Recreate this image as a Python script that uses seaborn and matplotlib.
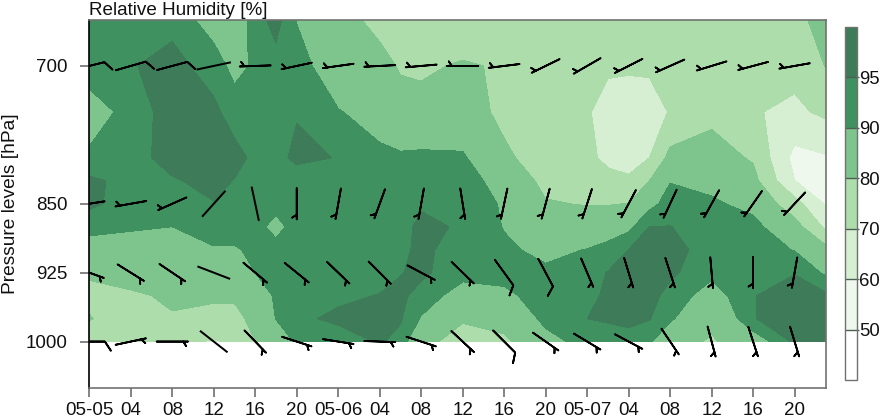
import numpy as np
import matplotlib
matplotlib.use("Agg")
import matplotlib.pyplot as plt
import seaborn as sns

sns.set_theme(style="ticks")
plt.rcParams['font.family'] = ['Liberation Sans', 'DejaVu Sans']

# Relative humidity field: one list per time column, values top to bottom of pressure
pressure = [650, 700, 750, 800, 825, 850, 875, 900, 925, 950, 975, 1000]
hours = [0, 4, 8, 12, 14, 16, 18, 20, 24, 28, 30, 32, 36, 40, 44, 48, 50, 52, 54, 56, 60, 64, 68, 71]
h00 = [92, 93, 87, 91, 96, 96, 92, 87, 81, 78, 80.5, 76]
h04 = [93, 94.7, 92, 93, 93.5, 93, 91, 86, 83, 79, 75, 73]
h08 = [93.7, 96.5, 97.5, 97, 94.5, 93, 90, 86, 82.5, 81, 79.5, 72]
h12 = [87, 93, 96, 97, 96.5, 94.8, 92, 89.6, 86, 81, 78, 69.3]
h14 = [86, 88, 93, 96.5, 94.8, 94, 92, 89.5, 85, 81, 78, 71]
h16 = [92.5, 91, 92.5, 94, 94, 93, 92, 91, 90, 85.5, 82, 80]
h18 = [97, 93, 93, 93, 93, 92, 88, 92, 91.5, 91, 90.2, 85]
h20 = [89.7, 93, 94.5, 96.5, 91.5, 93, 92.5, 92.5, 93, 93.5, 94, 91]
h24 = [84, 85, 90.4, 94.7, 93, 93, 92.5, 93, 93, 94, 96, 92.5]
h28 = [77, 83.3, 87, 91.5, 93, 93, 93, 93, 93, 95.2, 96.5, 95.5]
h30 = [74, 79, 84, 91, 93, 93, 93.5, 94, 94.8, 96, 95.5, 93.5]
h32 = [72, 78.5, 83, 91.5, 93, 94.5, 96, 96, 96, 93.3, 89.5, 83]
h36 = [73, 81, 84, 91, 93, 93.5, 94.5, 93, 92, 87, 81, 76]
h40 = [72, 79, 78, 81.5, 87, 89.3, 89.7, 91, 91.5, 89, 84, 78]
h44 = [73, 74, 74, 76, 77.5, 80.7, 85, 88.5, 91, 92, 91.5, 88]
h48 = [72, 71.5, 71, 71.5, 72.5, 79.5, 85, 90.2, 93, 93.5, 95, 92]
h50 = [72, 71.5, 66, 68.5, 72, 79.5, 86.5, 92, 95.2, 96, 95.5, 93]
h52 = [72, 71.3, 65, 66, 71.5, 80.2, 88.5, 95, 96.5, 96.5, 96, 93.5]
h54 = [72, 71.2, 66.5, 70, 80, 88, 95, 96.8, 96.5, 96.5, 95.3, 91]
h56 = [72, 71, 70.5, 83, 89.7, 92.5, 95.1, 97, 96, 93.5, 91, 84]
h60 = [71, 73, 77.5, 84, 88, 91, 93, 92.5, 91.5, 87, 82, 79]
h64 = [71, 71, 70.7, 79, 83, 88, 92, 93, 93.5, 94.8, 94.8, 86]
h68 = [77, 73, 68, 57, 60.2, 74, 84, 89.7, 94.8, 97, 97, 96]
h71 = [84, 80.3, 72, 59, 53, 59, 68, 83, 89, 96, 97, 97]
rh_columns = [h00, h04, h08, h12, h14, h16, h18, h20, h24, h28, h30, h32, h36, h40,
              h44, h48, h50, h52, h54, h56, h60, h64, h68, h71]

rh_levels = [40, 50, 60, 70, 80, 90, 95, 100]
rh_ticks = [50, 60, 70, 80, 90, 95]
rh_colors = ['#ffffff', '#eef8ec', '#d6eed2', '#acddaa', '#7dc48d', '#3f9160', '#3e7b58']

# Wind: direction the wind blows from (degrees) and speed (knots)
wind_hours = [0, 4, 8, 12, 16, 20, 24, 28, 32, 36, 40, 44, 48, 52, 56, 60, 64, 68]
wind_levels = [700, 850, 925, 1000]
dir_700 = [76, 74, 75, 78, 268, 258, 262, 267, 265, 270, 263, 244, 240, 243, 246, 253, 255, 260]
spd_700 = [10, 10, 10, 2, 5, 5, 5, 5, 5, 5, 5, 5, 5, 5, 5, 5, 5, 5]
dir_850 = [261, 260, 246, 222, 168, 180, 190, 200, 190, 171, 192, 195, 198, 208, 205, 209, 215, 223]
spd_850 = [5, 5, 5, 2, 2, 5, 5, 5, 5, 5, 5, 5, 5, 5, 5, 5, 5, 5]
dir_925 = [110, 122, 124, 111, 130, 129, 134, 135, 118, 134, 144, 152, 157, 163, 162, 175, 180, 190]
spd_925 = [5, 5, 5, 2, 5, 5, 5, 5, 5, 5, 10, 10, 5, 5, 5, 5, 5, 5]
dir_1000 = [90, 78, 90, 128, 136, 108, 99, 92, 108, 133, 135, 125, 121, 118, 146, 165, 162, 163]
spd_1000 = [10, 5, 5, 2, 5, 5, 5, 5, 5, 5, 10, 5, 5, 5, 5, 5, 5, 5]

x_tick_hours = wind_hours
x_tick_labels = ['05-05', '04', '08', '12', '16', '20', '05-06', '04', '08', '12', '16', '20',
                 '05-07', '04', '08', '12', '16', '20']

W, H = 880, 418
fig = plt.figure(figsize=(W / 100, H / 100), dpi=100)
ax = fig.add_axes([89.3 / W, 1 - 387.5 / H, (825.7 - 89.3) / W, (387.5 - 20) / H])
cax = fig.add_axes([844.5 / W, 1 - 380 / H, 12.2 / W, 353 / H])

palette = sns.color_palette(rh_colors)
rh = np.column_stack(rh_columns)
cf = ax.contourf(hours, pressure, rh, levels=rh_levels, colors=palette)

# Wind barbs, centred on their time and level
tx, ty, speed, direction = [], [], [], []
for lev, d, s in zip(wind_levels, [dir_700, dir_850, dir_925, dir_1000],
                     [spd_700, spd_850, spd_925, spd_1000]):
    tx += wind_hours
    ty += [lev] * len(wind_hours)
    speed += s
    direction += d
tx, ty, speed, direction = map(np.array, (tx, ty, speed, direction))
rad = np.deg2rad(direction)
u = -speed * np.sin(rad)
v = -speed * np.cos(rad)
strong = speed >= 5
ax.barbs(tx[strong], ty[strong], u[strong], v[strong], pivot='middle', length=6.7,
         linewidth=1.3, barbcolor='black', flagcolor='black', zorder=5,
         sizes=dict(spacing=0.1, height=0.29, width=0.38))
ax.quiver(tx[~strong], ty[~strong], u[~strong], v[~strong], pivot='middle', angles='uv',
          scale_units='dots', scale=2 / 35.0, units='dots', width=2.0,
          headwidth=0, headlength=0, headaxislength=0, color='black', zorder=5)

ax.set_xlim(0, 71)
ax.set_ylim(1050, 650)
ax.set_yticks(wind_levels)
ax.set_xticks(x_tick_hours)
ax.set_xticklabels(x_tick_labels)
ax.tick_params(axis='both', length=6.5, width=1.2, color='#707070', labelsize=13.5, labelcolor='#111111')
ax.tick_params(axis='x', pad=3.9)
ax.tick_params(axis='y', pad=9.4)
ax.set_ylabel('Pressure levels [hPa]', fontsize=13.8, color='#111111', labelpad=0)
ax.yaxis.set_label_coords(-70 / (825.7 - 89.3), 0.5)
ax.text(0, 1.004, 'Relative Humidity [%]', transform=ax.transAxes, fontsize=13.6, color='#111111',
        ha='left', va='bottom')
for side in ['top', 'right', 'bottom']:
    ax.spines[side].set_color('#6f736f')
    ax.spines[side].set_linewidth(1.2)
ax.spines['left'].set_color('black')
ax.spines['left'].set_linewidth(1.2)

cb = fig.colorbar(cf, cax=cax, ticks=rh_ticks, spacing='uniform', drawedges=True)
cb.outline.set_edgecolor('#6f736f')
cb.outline.set_linewidth(1)
cb.dividers.set_color('#4f5f55')
cb.dividers.set_linewidth(1)
cax.tick_params(length=1.5, width=1, color='#4f5f55', labelsize=13.3, labelcolor='#111111', pad=0)

fig.savefig('out.png', dpi=100)
